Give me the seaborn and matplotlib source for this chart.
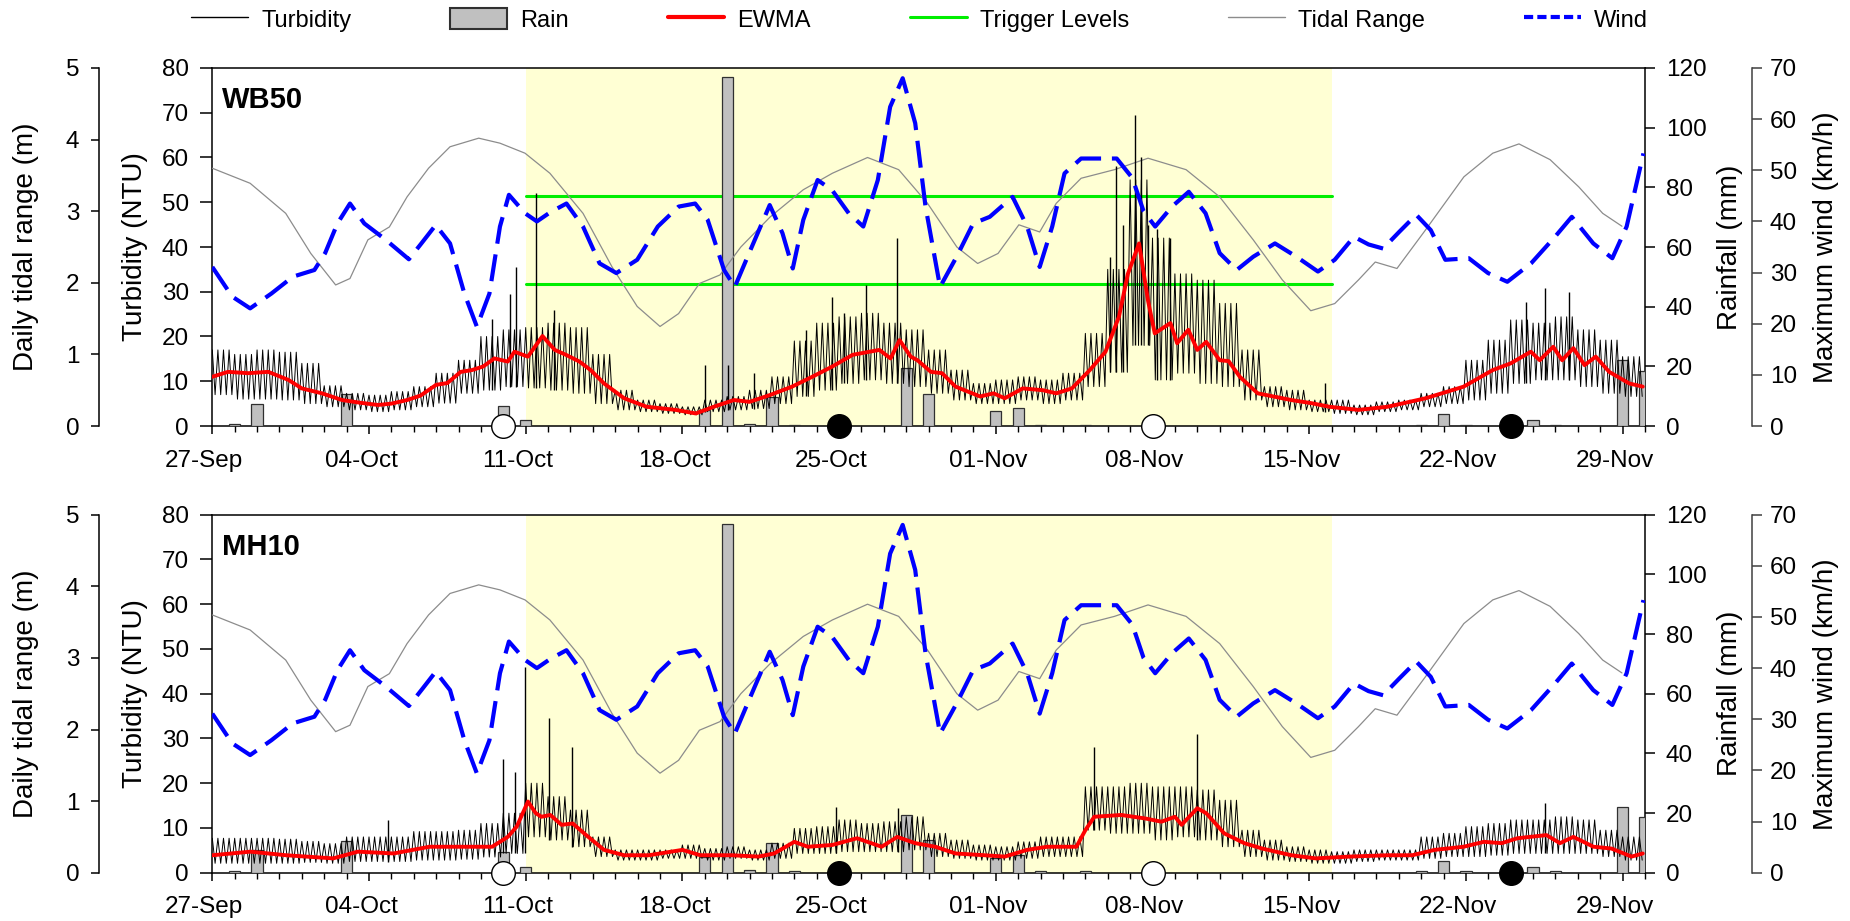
import matplotlib
matplotlib.use("Agg")
import matplotlib.pyplot as plt
import matplotlib.transforms as mtransforms
from matplotlib.lines import Line2D
from matplotlib.patches import Patch
import numpy as np
import pandas as pd
import seaborn as sns

# ---------------- data (x = days since 27-Sep) ----------------
tick_days = [0, 7, 14, 21, 28, 35, 42, 49, 56, 63]
tick_labels = ["27-Sep", "04-Oct", "11-Oct", "18-Oct", "25-Oct", "01-Nov",
               "08-Nov", "15-Nov", "22-Nov", "29-Nov"]

period_start, period_end = 14, 50          # shaded period 11-Oct .. 16-Nov
trigger_levels = [51.3, 31.8]              # NTU (WB50 only)

# daily tidal range (m)
tidal_days = [0, 1.69, 3.28, 4.40, 5.51, 6.15, 6.95, 7.91, 8.70, 9.66, 10.62, 11.90,
              12.85, 13.97, 15.08, 16.56, 17.86, 18.98, 20.0, 20.83, 21.76, 22.68,
              23.61, 24.92, 26.40, 27.70, 29.27, 30.66, 31.95, 33.26, 34.19, 35.1,
              36.03, 36.96, 37.70, 38.81, 40.30, 41.80, 43.5, 45.0, 46.5, 47.8,
              49.07, 50.14, 51.2, 51.95, 52.92, 54.2, 55.91, 57.2, 58.37, 59.76,
              61.04, 62.11, 62.97]
tidal_m = [3.60, 3.39, 2.97, 2.41, 1.97, 2.06, 2.60, 2.78, 3.20, 3.60, 3.90, 4.02,
           3.95, 3.81, 3.53, 2.97, 2.22, 1.67, 1.39, 1.57, 1.99, 2.11,
           2.50, 2.92, 3.30, 3.53, 3.75, 3.58, 3.11, 2.50, 2.27, 2.41,
           2.81, 2.71, 3.11, 3.46, 3.58, 3.74, 3.58, 3.20, 2.60, 2.04,
           1.61, 1.71, 2.04, 2.29, 2.20, 2.74, 3.48, 3.81, 3.94, 3.72,
           3.34, 2.97, 2.79]

# maximum wind (km/h)
wind_days = [0, 0.89, 1.69, 2.64, 3.6, 4.56, 5.04, 5.59, 6.15, 6.79, 7.75, 8.78,
             9.34, 9.98, 10.62, 11.26, 11.82, 12.38, 12.85, 13.25, 13.97, 14.5,
             15.1, 15.82, 16.56, 17.3, 18.05, 18.98, 19.9, 20.83, 21.57, 22.13,
             22.86, 23.34, 23.98, 24.9, 25.47, 25.93, 26.4, 27.04, 27.69, 28.43,
             29.08, 29.73, 30.28, 30.84, 31.4, 31.86, 32.51, 33.25, 33.99, 34.73,
             35.75, 36.4, 36.96, 37.52, 38.07, 38.81, 39.67, 40.4, 41.1, 41.6,
             42.12, 42.87, 43.62, 44.37, 45.0, 45.76, 46.5, 47.47, 48.43, 49.39,
             50.14, 51.0, 51.65, 52.3, 53.03, 53.78, 54.43, 55.08, 56.13, 56.99,
             57.85, 58.91, 59.98, 60.73, 61.69, 62.54, 63.18, 63.93]
wind_kmh = [31.1, 25.3, 23.0, 25.9, 29.2, 30.5, 33.8, 39.6, 43.5, 39.6, 36.4, 32.6,
            35.7, 39.3, 35.7, 25.9, 19.4, 25.9, 39.0, 45.2, 41.6, 40.0,
            41.8, 43.5, 39.0, 31.8, 29.9, 32.5, 39.0, 42.9, 43.5, 40.3,
            30.5, 27.2, 33.8, 43.2, 37.7, 30.8, 40.3, 48.1, 46.1, 41.6,
            39.0, 48.1, 62.4, 68.0, 59.2, 42.9, 27.2, 33.1, 39.6, 40.9,
            44.8, 39.0, 31.1, 39.0, 49.4, 52.3, 52.3, 52.3, 48.5, 42.0,
            39.0, 42.9, 45.8, 41.6, 33.8, 30.5, 33.1, 35.7, 33.1, 30.2,
            32.5, 37.0, 35.5, 34.7, 38.0, 41.3, 38.3, 32.5, 32.8, 29.9,
            28.2, 31.8, 37.0, 40.9, 35.7, 32.8, 39.0, 53.3]

# daily rainfall (mm)
rain_days = [1, 2, 6, 13, 14, 22, 23, 24, 25, 26, 31, 32, 35, 36, 37, 39,
             54, 55, 56, 59, 60, 63, 64]
rain_mm = [0.6, 7.5, 10.6, 6.8, 2.0, 5.2, 117.0, 0.8, 9.8, 0.5, 19.3, 10.8,
           5.0, 5.9, 0.5, 0.5, 0.5, 3.9, 0.5, 2.0, 0.5, 22.1, 18.6]

# moon phases
moon_days = [13, 28, 42, 58]
moon_fill = ["white", "black", "white", "black"]

# ---- WB50 turbidity: daily upper / lower envelope (NTU), days 0..63 ----
wb50_upper = [17, 16, 17, 16.5, 14, 9, 7.3, 6.9, 7.7, 8.8, 11.8, 14.7, 20, 21.5,
              22, 23, 22, 16, 8, 5.8, 5, 4.3, 5.8, 6.6, 8, 11, 19, 23, 24.4, 25.2,
              23, 21.5, 17, 12.5, 9.5, 10.3, 11, 10.3, 11.8, 20.7, 35, 55, 42, 34,
              32.6, 27.4, 17, 8.8, 8, 5.8, 5.8, 4.7, 5.4, 5.8, 7.3, 8.8, 14.7, 19.2,
              23.7, 23, 24.4, 21.5, 19.2, 15.5]
wb50_lower = [7, 6, 6, 5.8, 5, 4.3, 3.6, 3.2, 3.6, 4.3, 5.1, 7.3, 8, 8.8,
              8.5, 8, 7.3, 5, 3.6, 3.2, 2.8, 2.5, 3.2, 3.6, 3.9, 5, 6.6, 8, 9.5, 10.3,
              9.5, 8.8, 7.3, 5.8, 5, 5, 5.8, 5, 5.8, 8.8, 12, 18, 10.3, 11.8,
              9.5, 8.8, 5.8, 4.3, 3.6, 3.2, 2.8, 2.5, 3.2, 3.6, 4.3, 5, 5.8, 7.3,
              9.5, 10.3, 10.3, 8.8, 7.3, 6.6]
wb50_spike_days = [12.5, 13.3, 13.55, 14.45, 15.26, 22.0, 23.05, 24.2, 26.5, 27.69,
                   28.24, 29.2, 30.6, 40.11, 40.39, 40.7, 41.2, 41.5, 41.8, 42.2,
                   42.77, 49.7, 58.7, 59.55, 60.6]
wb50_spike_ntu = [24, 29.6, 35.6, 52, 26, 13.6, 13.6, 11.8, 21.5, 28.9,
                  25.2, 31.5, 41.9, 37.8, 58, 45, 69.5, 60, 45, 44,
                  42, 9.5, 27.8, 30.8, 30]
wb50_ewma_days = [0, 0.7, 1.6, 2.5, 3.4, 4.0, 4.9, 5.8, 6.6, 7.4, 8.0, 8.7, 9.3, 10.0,
                  10.5, 11.1, 11.6, 12.1, 12.6, 13.2, 13.5, 14.1, 14.75, 15.3, 15.8,
                  16.4, 16.9, 17.5, 18.4, 19.4, 20.7, 21.6, 22.4, 23.3, 24.0, 24.9,
                  25.9, 26.8, 27.7, 28.6, 29.8, 30.3, 30.7, 31.2, 31.5, 32.1, 32.6,
                  33.2, 34.3, 34.9, 35.4, 36.2, 37.1, 37.7, 38.4, 39.2, 39.9, 40.5,
                  40.9, 41.4, 41.8, 42.1, 42.8, 43.1, 43.6, 44.0, 44.4, 45.0, 45.4,
                  45.9, 46.7, 48.2, 49.1, 49.9, 51.2, 52.5, 54.2, 55.9, 57.2, 58.0,
                  58.9, 59.3, 59.9, 60.3, 60.8, 61.3, 61.8, 62.4, 63.3, 63.9]
wb50_ewma_ntu = [11, 12.1, 11.8, 12.1, 10.3, 8.4, 7.3, 5.8, 5.2, 4.7, 5.0, 5.8, 6.8, 9.2,
                 9.6, 12.1, 12.5, 13.3, 15.1, 14.4, 16.6, 15.5, 20.1, 17.0, 15.9,
                 14.4, 12.5, 9.5, 6.2, 4.3, 3.6, 2.8, 4.3, 5.8, 5.4, 6.9,
                 8.8, 11.0, 13.3, 15.9, 17.0, 15.1, 19.2, 15.5, 14.7, 12.1, 11.8,
                 8.8, 6.6, 7.3, 6.2, 8.4, 8.0, 7.3, 8.4, 12.5, 16.6, 24.4,
                 34.0, 40.8, 28.0, 20.7, 23.0, 18.5, 21.5, 17.0, 18.8, 14.7, 14.5,
                 11.0, 7.3, 5.8, 5.1, 4.3, 3.6, 4.3, 6.2, 8.8, 12.5, 14.0,
                 16.6, 14.7, 17.7, 14.7, 17.4, 13.6, 15.5, 12.1, 9.5, 8.8]

# ---- MH10 turbidity ----
mh10_upper = [7.7, 7.7, 7.7, 7.5, 7, 6.5, 8, 8, 8, 9.2, 9.2, 9.5, 11, 13.3,
              20, 17, 14, 8, 5.1, 5.1, 5.1, 6.2, 5.4, 5.8, 5.1, 6.6, 9.9, 10.3,
              11.8, 11, 11.4, 12.5, 8.8, 7.3, 6.2, 5.8, 6.9, 8, 8, 19.2, 19.2, 20,
              19.2, 19.2, 18.5, 16.2, 9.5, 7.3, 5.8, 5.1, 4.7, 5.1, 5.1, 5.1, 8,
              8.8, 10.3, 11, 11.8, 11.8, 12.5, 11.8, 9.5, 8]
mh10_lower = [2.1, 2.1, 2.1, 2.1, 2.3, 2.1, 2.5, 2.5, 2.5, 2.8, 2.8, 3, 3.5, 4.3,
              8, 7.3, 5.8, 3.6, 2.8, 2.8, 3.2, 3.2, 2.8, 3.2, 2.8, 3.2, 4.3, 4.3,
              4.7, 4.7, 4.7, 5.1, 3.6, 3.2, 2.8, 2.8, 3.2, 3.6, 3.6, 9.5, 8.8, 8.8,
              7.3, 8, 7.3, 5.8, 3.6, 2.8, 2.5, 2.1, 2.1, 2.5, 2.8, 2.8, 3.2,
              3.6, 3.6, 3.9, 4.3, 4.3, 4.3, 4.3, 3.6, 2.8]
mh10_spike_days = [7.83, 13.0, 13.5, 13.97, 15.05, 16.05, 27.84, 30.65, 39.37, 44.0, 59.55]
mh10_spike_ntu = [11.8, 25.5, 22.6, 46, 34.5, 28, 14.7, 14.4, 28, 31.1, 15.5]
mh10_ewma_days = [0, 1.7, 3.3, 5.4, 6.5, 8.1, 9.7, 11.3, 12.5, 13.2, 13.6, 14.1, 14.45,
                  14.7, 15.1, 15.6, 16.1, 16.7, 17.5, 18.4, 19.5, 21.0, 21.8, 23.2,
                  24.4, 25.1, 26.0, 26.6, 27.7, 28.8, 29.9, 30.6, 31.4, 32.3, 33.2,
                  34.5, 35.4, 36.4, 37.3, 38.6, 39.0, 39.4, 40.6, 41.7, 42.4, 43.0,
                  43.3, 44.0, 44.4, 45.2, 46.1, 46.9, 48.2, 49.3, 50.8, 52.5, 53.6,
                  54.6, 55.9, 56.8, 57.6, 58.3, 59.6, 60.2, 60.8, 61.7, 62.5, 63.4, 63.9]
mh10_ewma_ntu = [3.9, 4.7, 3.9, 3.2, 4.7, 4.3, 5.8, 5.8, 5.8, 8.0, 10.3, 15.9, 13.3,
                 12.5, 12.9, 10.7, 11.0, 8.4, 5.1, 3.9, 3.9, 5.1, 3.9, 3.9,
                 3.6, 4.3, 6.9, 5.8, 6.2, 7.7, 5.8, 8.0, 6.6, 5.8, 4.3,
                 3.9, 3.6, 5.1, 5.8, 5.8, 9.5, 12.5, 12.9, 12.1, 11.4, 12.5,
                 10.7, 14.4, 13.3, 8.8, 6.6, 5.4, 3.9, 3.2, 3.6, 3.9, 3.9,
                 5.1, 5.8, 6.9, 6.6, 7.7, 8.4, 6.6, 8.0, 5.8, 5.4, 3.6, 4.3]

# ---------------- style ----------------
sns.set_theme(style="ticks")
plt.rcParams["font.family"] = ["Liberation Sans", "DejaVu Sans"]
plt.rcParams["axes.edgecolor"] = "black"
plt.rcParams["xtick.color"] = "black"
plt.rcParams["ytick.color"] = "black"
plt.rcParams["text.color"] = "black"
plt.rcParams["axes.labelcolor"] = "black"

TICK_FS = 17.5
LABEL_FS = 20

fig = plt.figure(figsize=(18.5, 9.21), dpi=100)
fig.patch.set_facecolor("white")

AX_L = 212.3 / 1850
AX_W = 1432.7 / 1850
AX_H = 358.0 / 921
rects = [(AX_L, 1 - 426.0 / 921, AX_W, AX_H),
         (AX_L, 1 - 872.7 / 921, AX_W, AX_H)]


def envelope_trace(upper, lower, n_osc=4):
    xs, ys = [], []
    for d, (u, l) in enumerate(zip(upper, lower)):
        for k in range(2 * n_osc):
            xs.append(d + k / (2 * n_osc))
            ys.append(u if k % 2 == 0 else l)
    return pd.DataFrame({"day": xs, "ntu": ys})


def panel(rect, name, upper, lower, spk_d, spk_v, ew_d, ew_v, show_trigger):
    ax_r = fig.add_axes(rect)
    ax_td = ax_r.twinx()
    ax_t = ax_r.twinx()
    ax_w = ax_r.twinx()

    # rain axis (bottom layer, holds box, x axis, shading, bars)
    ax_r.set_xlim(0, 64)
    ax_r.set_ylim(0, 120)
    ax_r.axvspan(period_start, period_end, color="#FFFFD4", lw=0, zorder=0)
    ax_r.bar(rain_days, rain_mm, width=0.5, color="#C0C0C0",
             edgecolor="#303030", linewidth=0.9, zorder=3)
    if show_trigger:
        for lv in trigger_levels:
            ax_r.plot([period_start, period_end], [lv, lv], color="#00EE00",
                      lw=2.2, zorder=2, transform=ax_t.transData)
    for s in ["left", "right", "top", "bottom"]:
        ax_r.spines[s].set_visible(True)
        ax_r.spines[s].set_color("black")
        ax_r.spines[s].set_linewidth(1.1)
    ax_r.yaxis.tick_right()
    ax_r.yaxis.set_label_position("right")
    ax_r.set_yticks(range(0, 121, 20))
    ax_r.tick_params(axis="y", which="major", right=True, left=False, length=7,
                     width=1.1, pad=8, labelsize=TICK_FS)
    ax_r.set_xticks(tick_days)
    ax_r.set_xticklabels(tick_labels)
    ax_r.set_xticks(range(0, 65), minor=True)
    ax_r.tick_params(axis="x", which="major", length=6, width=1.1, pad=11,
                     labelsize=TICK_FS, bottom=True)
    ax_r.tick_params(axis="x", which="minor", length=4, width=1.0, bottom=True)
    offset = mtransforms.ScaledTranslation(-8 / 100, 0, fig.dpi_scale_trans)
    for lab in ax_r.get_xticklabels():
        lab.set_transform(lab.get_transform() + offset)
    ax_r.set_ylabel("Rainfall (mm)", fontsize=LABEL_FS)
    ax_r.yaxis.set_label_coords(1.0503, 0.5)
    ax_r.set_xlabel("")

    # tidal range axis (far left)
    ax_td.set_ylim(0, 5)
    sns.lineplot(x=tidal_days, y=tidal_m, ax=ax_td,
                 color="#8C8C8C", lw=0.9, estimator=None, sort=False)
    for s in ["right", "top", "bottom"]:
        ax_td.spines[s].set_visible(False)
    ax_td.spines["left"].set_visible(True)
    ax_td.spines["left"].set_position(("axes", (99.3 - 212.3) / 1432.7))
    ax_td.spines["left"].set_color("black")
    ax_td.spines["left"].set_linewidth(1.1)
    ax_td.yaxis.tick_left()
    ax_td.yaxis.set_label_position("left")
    ax_td.set_yticks(range(0, 6))
    ax_td.tick_params(axis="y", length=5.5, width=1.1, pad=9, labelsize=TICK_FS)
    ax_td.set_ylabel("Daily tidal range (m)", fontsize=LABEL_FS)
    ax_td.yaxis.set_label_coords(-0.121, 0.5)

    # turbidity axis (left, main)
    ax_t.set_ylim(0, 80)
    tr = envelope_trace(upper, lower)
    sns.lineplot(data=tr, x="day", y="ntu", ax=ax_t, color="black", lw=0.7,
                 estimator=None, sort=False, zorder=3)
    lows = [lower[min(int(d), len(lower) - 1)] for d in spk_d]
    ax_t.vlines(spk_d, lows, spk_v, color="black", lw=1.0, zorder=3)
    sns.lineplot(x=ew_d, y=ew_v, ax=ax_t, color="#FF0000", lw=2.8,
                 estimator=None, sort=False, zorder=4)
    for s in ["left", "right", "top", "bottom"]:
        ax_t.spines[s].set_visible(False)
    ax_t.yaxis.tick_left()
    ax_t.yaxis.set_label_position("left")
    ax_t.set_yticks(range(0, 81, 10))
    ax_t.tick_params(axis="y", length=9, width=1.1, pad=8, labelsize=TICK_FS)
    ax_t.set_ylabel("Turbidity (NTU)", fontsize=LABEL_FS)
    ax_t.yaxis.set_label_coords(-0.0448, 0.5)
    ax_t.text(0.007, 0.91, name, transform=ax_t.transAxes, fontsize=21,
              fontweight="bold", va="center", ha="left")

    # wind axis (far right)
    ax_w.set_ylim(0, 70)
    sns.lineplot(x=wind_days, y=wind_kmh, ax=ax_w, color="#0000FF", lw=3.0,
                 linestyle=(0, (6.5, 2.6)), estimator=None, sort=False)
    for s in ["left", "top", "bottom"]:
        ax_w.spines[s].set_visible(False)
    ax_w.spines["right"].set_visible(True)
    ax_w.spines["right"].set_position(("axes", (1751.7 - 212.3) / 1432.7))
    ax_w.spines["right"].set_color("#404040")
    ax_w.spines["right"].set_linewidth(1.1)
    ax_w.set_yticks(range(0, 71, 10))
    ax_w.tick_params(axis="y", length=7, width=1.1, pad=6, labelsize=TICK_FS,
                     color="#404040")
    ax_w.set_ylabel("Maximum wind (km/h)", fontsize=LABEL_FS)
    ax_w.yaxis.set_label_coords(1.117, 0.5)
    for d, c in zip(moon_days, moon_fill):
        ax_w.plot([d], [0], marker="o", ms=17, mfc=c, mec="black", mew=1.0,
                  clip_on=False, zorder=10, ls="none")

    for a in (ax_r, ax_td, ax_t, ax_w):
        a.set_xlim(0, 64)
    return ax_r


panel(rects[0], "WB50", wb50_upper, wb50_lower, wb50_spike_days, wb50_spike_ntu,
      wb50_ewma_days, wb50_ewma_ntu, True)
panel(rects[1], "MH10", mh10_upper, mh10_lower, mh10_spike_days, mh10_spike_ntu,
      mh10_ewma_days, mh10_ewma_ntu, False)

handles = [
    Line2D([], [], color="black", lw=1.0),
    Patch(facecolor="#C0C0C0", edgecolor="#303030", linewidth=1.5),
    Line2D([], [], color="#FF0000", lw=3.0),
    Line2D([], [], color="#00EE00", lw=2.2),
    Line2D([], [], color="#8C8C8C", lw=1.0),
    Line2D([], [], color="#0000FF", lw=3.0, linestyle=(0, (2.2, 1.0))),
]
labels = ["Turbidity", "Rain", "EWMA", "Trigger Levels", "Tidal Range", "Wind"]
fig.legend(handles, labels, loc="center", bbox_to_anchor=(0.497, 1 - 20 / 921),
           ncol=6, frameon=False, fontsize=17, handlelength=2.4,
           handleheight=1.0, columnspacing=4.2, handletextpad=0.55)

fig.savefig("out.png", dpi=100, facecolor="white")
